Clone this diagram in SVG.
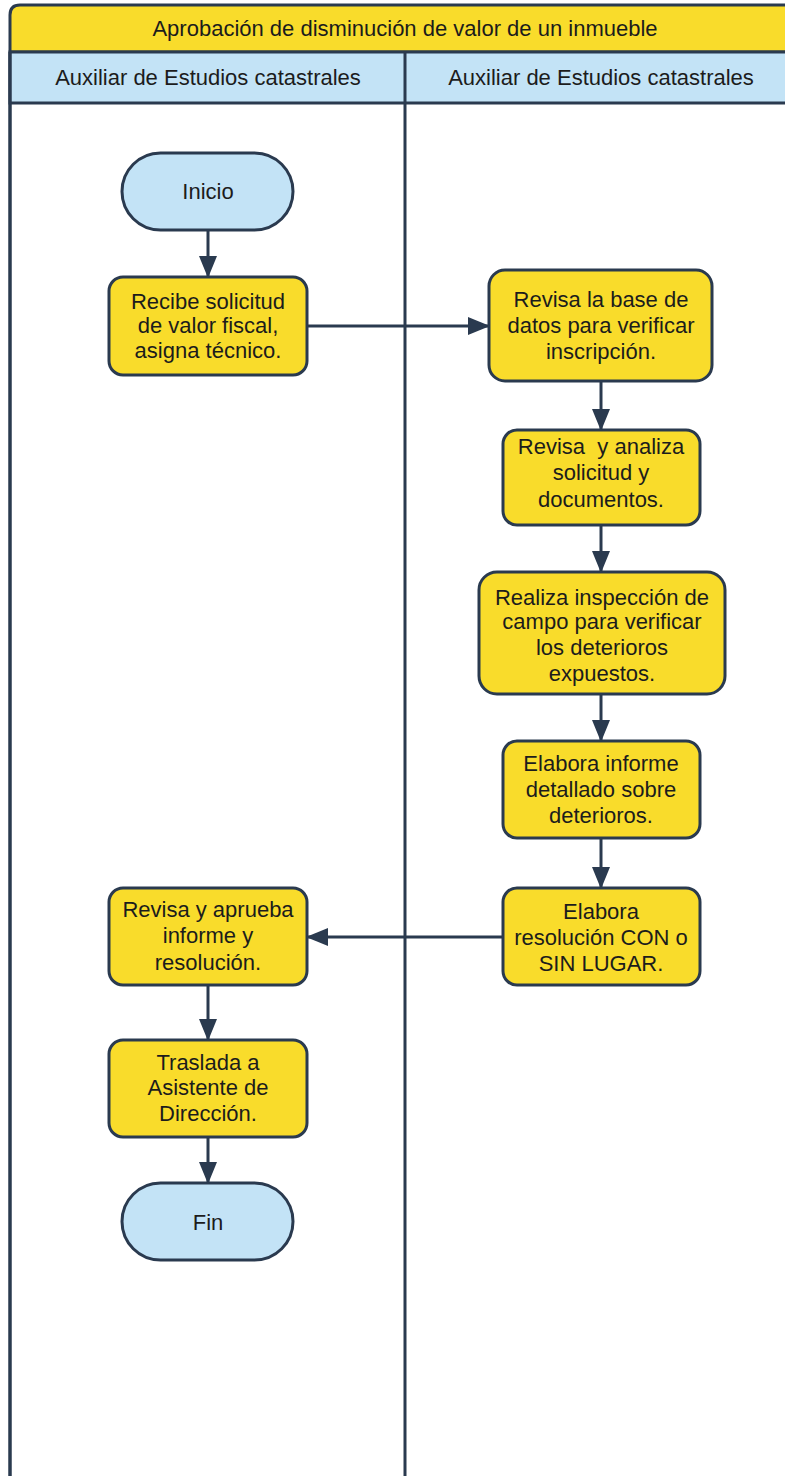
<svg xmlns="http://www.w3.org/2000/svg" width="785" height="1476" viewBox="0 0 785 1476">
  <defs>
    <style>
      .lbl { font-family: "Liberation Sans", Arial, sans-serif; font-size: 22px; fill: #1c1c1c; text-anchor: middle; }
      .proc { fill: #f9dc2b; stroke: #2a3a4f; stroke-width: 3; }
      .term { fill: #c3e3f6; stroke: #2a3a4f; stroke-width: 3; }
      .frame { stroke: #2a3a4f; stroke-width: 3; }
      .conn { fill: none; stroke: #2a3a4f; stroke-width: 3; }
    </style>
    <marker id="arrow" viewBox="0 0 22 18" refX="21" refY="9" markerWidth="22" markerHeight="18" markerUnits="userSpaceOnUse" orient="auto">
      <path d="M0,0 L22,9 L0,18 Z" fill="#2a3a4f"/>
    </marker>
  </defs>

  <rect width="785" height="1476" fill="#ffffff"/>

  <!-- Pool frame: title band, lane headers, lane divider -->
  <g id="pool">
    <path d="M10,1480 L10,15 Q10,5 20,5 L800,5 L800,52 L10,52 Z" fill="#f9dc2b" class="frame"/>
    <rect x="10" y="52" width="790" height="51" fill="#c3e3f6" class="frame"/>
    <line x1="10" y1="52" x2="10" y2="1480" class="frame"/>
    <line x1="405" y1="52" x2="405" y2="1480" class="frame"/>
    <text class="lbl" x="405" y="36">Aprobación de disminución de valor de un inmueble</text>
    <text class="lbl" x="208" y="85">Auxiliar de Estudios catastrales</text>
    <text class="lbl" x="601" y="85">Auxiliar de Estudios catastrales</text>
  </g>

  <!-- Connectors -->
  <g id="connectors">
    <line x1="208" y1="230" x2="208" y2="277" class="conn" marker-end="url(#arrow)"/>
    <line x1="307" y1="326" x2="489" y2="326" class="conn" marker-end="url(#arrow)"/>
    <line x1="601" y1="381" x2="601" y2="430" class="conn" marker-end="url(#arrow)"/>
    <line x1="601" y1="525" x2="601" y2="572" class="conn" marker-end="url(#arrow)"/>
    <line x1="601" y1="694" x2="601" y2="741" class="conn" marker-end="url(#arrow)"/>
    <line x1="601" y1="838" x2="601" y2="888" class="conn" marker-end="url(#arrow)"/>
    <line x1="503" y1="937" x2="307" y2="937" class="conn" marker-end="url(#arrow)"/>
    <line x1="208" y1="985" x2="208" y2="1040" class="conn" marker-end="url(#arrow)"/>
    <line x1="208" y1="1137" x2="208" y2="1183" class="conn" marker-end="url(#arrow)"/>
  </g>

  <g id="inicio">
    <rect x="122" y="153" width="171" height="77" rx="38.5" class="term"/>
    <text class="lbl" x="208" y="199">Inicio</text>
  </g>

  <g id="recibe">
    <rect x="109" y="277" width="198" height="98" rx="14" class="proc"/>
    <text class="lbl" x="208" y="309">Recibe solicitud</text>
    <text class="lbl" x="208" y="333">de valor fiscal,</text>
    <text class="lbl" x="208" y="358">asigna técnico.</text>
  </g>

  <g id="revisa-base">
    <rect x="489" y="270" width="223" height="111" rx="16" class="proc"/>
    <text class="lbl" x="601" y="307">Revisa la base de</text>
    <text class="lbl" x="601" y="333">datos para verificar</text>
    <text class="lbl" x="601" y="359">inscripción.</text>
  </g>

  <g id="revisa-analiza">
    <rect x="503" y="430" width="197" height="95" rx="14" class="proc"/>
    <text class="lbl" x="601" y="454" xml:space="preserve">Revisa  y analiza</text>
    <text class="lbl" x="601" y="480">solicitud y</text>
    <text class="lbl" x="601" y="507">documentos.</text>
  </g>

  <g id="inspeccion">
    <rect x="479" y="572" width="246" height="122" rx="18" class="proc"/>
    <text class="lbl" x="602" y="605">Realiza inspección de</text>
    <text class="lbl" x="602" y="629">campo para verificar</text>
    <text class="lbl" x="602" y="655">los deterioros</text>
    <text class="lbl" x="602" y="681">expuestos.</text>
  </g>

  <g id="informe">
    <rect x="503" y="741" width="197" height="97" rx="14" class="proc"/>
    <text class="lbl" x="601" y="771">Elabora informe</text>
    <text class="lbl" x="601" y="797">detallado sobre</text>
    <text class="lbl" x="601" y="823">deterioros.</text>
  </g>

  <g id="resolucion">
    <rect x="503" y="888" width="197" height="97" rx="14" class="proc"/>
    <text class="lbl" x="601" y="919">Elabora</text>
    <text class="lbl" x="601" y="945">resolución CON o</text>
    <text class="lbl" x="601" y="971">SIN LUGAR.</text>
  </g>

  <g id="aprueba">
    <rect x="109" y="888" width="198" height="97" rx="14" class="proc"/>
    <text class="lbl" x="208" y="917">Revisa y aprueba</text>
    <text class="lbl" x="208" y="943">informe y</text>
    <text class="lbl" x="208" y="970">resolución.</text>
  </g>

  <g id="traslada">
    <rect x="109" y="1040" width="198" height="97" rx="14" class="proc"/>
    <text class="lbl" x="208" y="1070">Traslada a</text>
    <text class="lbl" x="208" y="1095">Asistente de</text>
    <text class="lbl" x="208" y="1121">Dirección.</text>
  </g>

  <g id="fin">
    <rect x="122" y="1183" width="171" height="77" rx="38.5" class="term"/>
    <text class="lbl" x="208" y="1230">Fin</text>
  </g>
</svg>
